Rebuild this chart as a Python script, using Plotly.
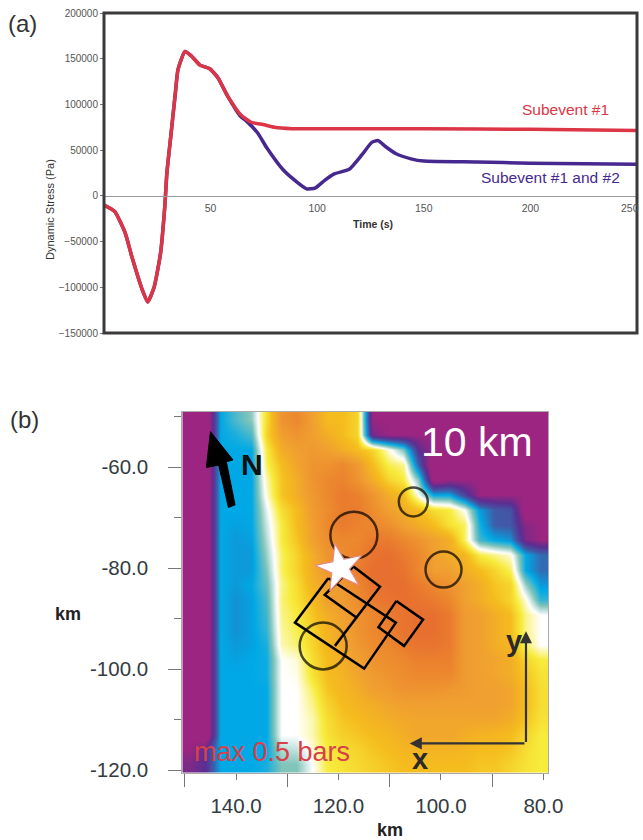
import plotly.graph_objects as go

W, H = 643, 840

# ---------- panel (a) ----------
t_sub1 = [0, 5, 10, 13, 18, 20.5, 23.5, 26.5, 28.5, 29.5, 31.5, 33.5, 34.7, 38, 41, 45, 49.6, 53.5, 58, 64, 69, 74.6, 80, 88, 100, 150, 200, 250]
stress_sub1 = [-10000, -17000, -41000, -66000, -103000, -116000, -100000, -63000, -12000, 25000, 69000, 113000, 138000, 158000, 153000, 143000, 139000, 129000, 109000, 89000, 80500, 78000, 75000, 73500, 73500, 73500, 72800, 71500]
t_both = [0, 5, 10, 13, 18, 20.5, 23.5, 26.5, 28.5, 29.5, 31.5, 33.5, 34.7, 38, 41, 45, 49.6, 53.5, 58, 64, 67, 72, 76.5, 84, 90, 95, 99, 103.5, 108, 115, 121, 125.6, 128.5, 132, 137, 144, 150, 175, 200, 225, 250]
stress_both = [-10000, -17000, -41000, -66000, -103000, -116000, -100000, -63000, -12000, 25000, 69000, 113000, 138000, 158000, 153000, 143000, 139000, 129000, 109000, 87000, 81500, 69000, 52000, 28500, 16000, 7700, 8500, 17000, 24000, 29000, 45000, 58500, 60500, 54000, 46000, 40500, 38000, 37000, 35800, 35000, 34500]
a_xticks = [50, 100, 150, 200, 250]
a_yticks = [-150000, -100000, -50000, 0, 50000, 100000, 150000, 200000]

# ---------- panel (b) stress map (level 0 purple ... 5 white ... 10 deep orange) ----------
r00 = [0,-1,3,3.6,4.1,6.3,8.5,9,8,7,7,6.5,0,0,0,0,0,0,0,0,0,0,0,0]
r01 = [0,-1,3,3.2,3.6,6.5,8,8.5,8,7.5,7,6.5,0.5,0,0,0,0,0,0,0,0,0,0,0]
r02 = [0,-1,3,3,3,6,7.5,8,8.3,8,7.5,7,6.5,5.2,4,1,0,0,0,0,0,0,0,0]
r03 = [0,-1,3,3,3,5.8,7,7.8,8.5,8.5,9,8.3,7,5.9,5.6,2,-1,0,0,0,0,0,0,0]
r04 = [0,-1,3,3,3,5.4,6.8,7.5,8.5,9,9.2,8.5,7.5,6.5,6,4,-0.5,0,0,0,0,0,0,0]
r05 = [0,-1,3,3,3,5.2,6.8,7.5,8.3,9,9.5,9.3,8.5,7.5,7,5,3,3,1.5,0,0,0,0,0]
r06 = [0,-1,3,3,3,4.8,6.3,7,8.2,8.8,9.5,9.5,8.8,8,7.5,7,6.3,6,5,2.8,2,1.8,-0.5,0]
r07 = [0,-1,3,2.9,3,4.6,6,7,8,9,9.5,9.2,9,8.7,8,7.5,7,6.2,5.8,3.2,2,1.9,0.3,0]
r08 = [0,-1,3,2.8,2.9,4.4,6,6.8,8,8.7,9,9,9.5,9.5,9,8.5,8,7.5,5.8,3.5,3,2.7,0.5,0]
r09 = [0,-1,3,2.8,2.8,4.2,5.8,6.5,7.5,8.5,8.8,9.2,9.8,10,9.5,9,8,7.5,7.2,6,5.6,5.2,3,2.2]
r10 = [0,-1,3,2.8,2.8,4,5.8,6.5,7.5,8.3,8.8,9.5,10,10,9.8,9,8,8,7.5,7,6.5,5.8,3,2.2]
r11 = [0,-1,3,2.8,3,3.8,5.6,6.3,7.3,8,8.3,9,9.8,10,10,9.5,9,8.5,8,7.5,6.8,6.5,4.2,2.8]
r12 = [0,-1,3,2.7,2.9,3.6,5.7,6.2,7,8,8.2,8.8,9.5,9.8,10,9.8,9.5,9,8,7.5,7,6.5,5.2,3.4]
r13 = [0,-1,3,2.7,2.9,3.5,5.6,6,6.8,7.5,8,8.5,9,9.5,9.8,10,10,9.5,8.2,8,7.5,7,5.6,5]
r14 = [0,-1,3,2.7,2.9,3.4,5.5,5.9,6.5,7.3,7.8,8.5,9,9.3,9.8,10,10,9.5,8.2,8,7.5,7,5.6,5]
r15 = [0,-1,3,2.8,2.9,3.2,5.4,5.7,6.5,7.2,7.8,8.3,8.8,9,9.5,9.8,9.8,9.5,8.2,8,7.5,7.2,5.8,5]
r16 = [0,-1,3,2.9,3,3.1,5,5.2,6.3,7,7.5,8,8.5,8.8,9,9.3,9.3,9.3,8.2,8,7.8,7.5,6.5,6]
r17 = [0,-1,3,3,3,3.1,5,5.1,6.2,7,7.3,7.8,8.2,8.5,8.8,9,9,9,8.2,8,7.8,7.5,6.8,6.2]
r18 = [0,-1,3,3,3,3,5,5,5.8,6.8,7.2,7.5,8,8.2,8.5,8.5,8.5,8.3,8.2,8,8,7.8,7,6.3]
r19 = [0,-1,3,3,3,3,5,5,5.6,6.5,7,7.3,7.5,7.8,8,8,8,8,8,8,8,7.8,7,6.3]
r20 = [0,-1,3,3,3,3,5,5,5.4,6.3,6.8,7,7.3,7.5,7.7,7.8,7.8,7.8,7.8,7.8,7.8,7.5,6.8,6.2]
r21 = [0,-1,3,3,3,3,5,5,5.4,6.2,6.6,6.8,7,7.2,7.5,7.8,7.8,7.8,7.5,7.3,7.2,7,6.5,6]
r22 = [0,1,3,3,3,3,4.4,4.5,5.2,6,6.3,6.5,6.8,7,7.2,7.3,7.3,7.3,7.2,7,7,6.8,6.3,6]
r23 = [0.5,1,3,3,3,3.2,4,4,5,6,6.2,6.4,6.6,6.8,7,7,7,7,7,6.8,6.8,6.5,6.2,6]
map_rows = [r00,r01,r02,r03,r04,r05,r06,r07,r08,r09,r10,r11,r12,r13,r14,r15,r16,r17,r18,r19,r20,r21,r22,r23]

map_x_lim = [150.5, 79.1]
map_y_lim = [-49.05, -120.5]
b_xlabels = [140, 120, 100, 80]
b_xminor = [150, 130, 110, 90]
b_ylabels = [-60, -80, -100, -120]
b_yminor = [-50, -70, -90, -110]

circle_x = [105.4, 117.0, 99.5, 123.0]
circle_y = [-66.9, -73.5, -80.3, -95.4]
circle_d = [29, 47, 36, 47]

rect_large_x = [122.0, 128.5, 115.0, 108.8, 122.0]
rect_large_y = [-82.0, -90.8, -99.9, -90.8, -82.0]
rect_upper_x = [117.1, 111.9, 116.5, 122.7, 117.1]
rect_upper_y = [-79.7, -83.7, -89.8, -85.3, -79.7]
rect_tail_x = [116.5, 120.7]
rect_tail_y = [-89.8, -95.4]
rect_small_x = [108.7, 103.5, 107.2, 112.2, 108.7]
rect_small_y = [-86.5, -90.2, -95.4, -91.7, -86.5]

star_x = [119.7]
star_y = [-80.0]

north_x = [145.0, 140.6, 141.9, 140.2, 141.5, 143.4, 145.8, 145.0]
north_y = [-53.0, -58.6, -58.95, -67.5, -68.0, -59.6, -60.1, -53.0]

axes_corner = (83.4, -114.7)
axis_y_end = -92.5
axis_x_end = 106.1

colorscale = [
    [0.0, "#9B2581"], [0.1, "#5B2E92"], [0.2, "#3F5CA8"], [0.3, "#00A9E6"],
    [0.4, "#80C4BA"], [0.5, "#FFFFFF"], [0.6, "#F7EC3C"], [0.7, "#F5BC1E"],
    [0.8, "#F0A030"], [0.9, "#EC882E"], [1.0, "#E76F2F"],
]

RED = "#DC3545"
PURPLE = "#46288F"
FONT = "Liberation Sans, Arial, sans-serif"

fig = go.Figure()

fig.add_trace(go.Scatter(x=t_both, y=stress_both, mode="lines", name="Subevent #1 and #2",
                         line=dict(color=PURPLE, width=3.5, shape="spline", smoothing=0.5),
                         xaxis="x", yaxis="y", showlegend=False))
fig.add_trace(go.Scatter(x=t_sub1, y=stress_sub1, mode="lines", name="Subevent #1",
                         line=dict(color=RED, width=3.5, shape="spline", smoothing=0.5),
                         xaxis="x", yaxis="y", showlegend=False))

n = len(map_rows)
cx = [map_x_lim[0] + (map_x_lim[1] - map_x_lim[0]) * (i + 0.5) / len(r00) for i in range(len(r00))]
cy = [map_y_lim[0] + (map_y_lim[1] - map_y_lim[0]) * (j + 0.5) / n for j in range(n)]
fig.add_trace(go.Heatmap(x=cx, y=cy, z=map_rows, zmin=0, zmax=10, colorscale=colorscale,
                         zsmooth="best", showscale=False, hoverinfo="skip",
                         xaxis="x2", yaxis="y2"))

for xs, ys in [(rect_large_x, rect_large_y), (rect_upper_x, rect_upper_y),
               (rect_tail_x, rect_tail_y), (rect_small_x, rect_small_y)]:
    fig.add_trace(go.Scatter(x=xs, y=ys, mode="lines", line=dict(color="#000000", width=2.5),
                             xaxis="x2", yaxis="y2", showlegend=False, hoverinfo="skip"))
fig.add_trace(go.Scatter(x=circle_x, y=circle_y, mode="markers",
                         marker=dict(symbol="circle-open", size=circle_d, color="#000000", line=dict(width=2.5, color="#000000")),
                         xaxis="x2", yaxis="y2", showlegend=False, hoverinfo="skip"))
fig.add_trace(go.Scatter(x=star_x, y=star_y, mode="markers",
                         marker=dict(symbol="star", size=36, color="#FFFFFF", angle=-12,
                                     line=dict(width=1.2, color="#E88A8A")),
                         xaxis="x2", yaxis="y2", showlegend=False, hoverinfo="skip"))
fig.add_trace(go.Scatter(x=north_x, y=north_y, mode="lines", fill="toself", fillcolor="#000000",
                         line=dict(color="#000000", width=1),
                         xaxis="x2", yaxis="y2", showlegend=False, hoverinfo="skip"))

def label(x, y, text, size, color="#222222", bold=False, angle=0):
    return dict(xref="paper", yref="paper", x=x / W, y=1 - y / H, text=f"<b>{text}</b>" if bold else text,
                showarrow=False, font=dict(family=FONT, size=size, color=color),
                xanchor="center", yanchor="middle", textangle=angle)

def on_map(x, y, text, size, color, bold=False):
    return dict(xref="x2", yref="y2", x=x, y=y, text=f"<b>{text}</b>" if bold else text, showarrow=False,
                font=dict(family=FONT, size=size, color=color), xanchor="center", yanchor="middle")

def arrow(x_from, y_from, x_to, y_to):
    return dict(xref="x2", yref="y2", axref="x2", ayref="y2", x=x_to, y=y_to, ax=x_from, ay=y_from,
                text="", showarrow=True, arrowhead=2, arrowsize=1.1, arrowwidth=2.2, arrowcolor="#333333")

annotations = [
    label(22, 23, "(a)", 24, "#333333"),
    label(24, 419, "(b)", 24, "#333333"),
    label(565, 110, "Subevent #1", 15.5, RED),
    label(550, 177, "Subevent #1 and #2", 15.5, PURPLE),
    label(68, 614, "km", 18, "#222222", bold=True),
    label(390, 830, "km", 18, "#222222", bold=True),
    label(50, 210, "Dynamic Stress (Pa)", 11, "#333333", angle=-90),
    label(373, 224, "Time (s)", 10.5, "#333333", bold=True),
    label(630, 208, "250", 10.5, "#555555"),
    on_map(93.0, -55.0, "10 km", 41, "#FFFFFF"),
    on_map(136.9, -59.6, "N", 30, "#111111", bold=True),
    on_map(85.7, -94.5, "y", 29, "#2A2A2A", bold=True),
    on_map(104.0, -117.7, "x", 29, "#2A2A2A", bold=True),
    on_map(133.0, -116.4, "max 0.5 bars", 27, "#D8404A"),
    arrow(axes_corner[0], axes_corner[1], axes_corner[0], axis_y_end),
    arrow(axes_corner[0], axes_corner[1], axis_x_end, axes_corner[1]),
]

fig.update_layout(
    width=W, height=H, margin=dict(l=0, r=0, t=0, b=0),
    paper_bgcolor="white", plot_bgcolor="white", showlegend=False,
    font=dict(family=FONT),
    annotations=annotations,
    shapes=[dict(type="rect", xref="x domain", yref="y domain", x0=0, x1=1, y0=0, y1=1,
                 line=dict(color="#3A3A3A", width=3), layer="above")],
    xaxis=dict(domain=[104 / W, 637 / W], range=[0, 250], tickvals=a_xticks[:-1], anchor="free",
               position=1 - 196 / H, showgrid=False, zeroline=False, showline=True, automargin=False,
               linecolor="#9A9A9A", linewidth=1, ticks="",
               tickfont=dict(size=10.5, color="#555555"), ticklabelstandoff=2),
    yaxis=dict(domain=[1 - 333 / H, 1 - 13 / H], range=[-150000, 200000], tickvals=a_yticks, automargin=False,
               tickformat="d", showgrid=False, zeroline=False, ticks="outside", ticklen=3,
               tickcolor="#777777", tickfont=dict(size=10, color="#555555"), anchor="x"),
    xaxis2=dict(domain=[182.3 / W, 548 / W], range=map_x_lim, tickvals=b_xlabels, automargin=False,
                ticktext=["140.0", "120.0", "100.0", "80.0"], anchor="y2", showgrid=False, zeroline=False,
                showline=True, mirror=True, linecolor="#AAAAAA", linewidth=1,
                ticks="outside", ticklen=6, tickcolor="#777777", ticklabelstandoff=9,
                tickfont=dict(size=20.5, color="#333B42"),
                minor=dict(tickvals=b_xminor, ticks="outside", ticklen=13, tickcolor="#777777", showgrid=False)),
    yaxis2=dict(domain=[1 - 772.7 / H, 1 - 411.7 / H], range=[map_y_lim[1], map_y_lim[0]], tickvals=b_ylabels, automargin=False,
                ticktext=["-60.0", "-80.0", "-100.0", "-120.0"], anchor="x2", showgrid=False, zeroline=False,
                showline=True, mirror=True, linecolor="#AAAAAA", linewidth=1,
                ticks="outside", ticklen=13, tickcolor="#777777", ticklabelstandoff=16,
                tickfont=dict(size=20.5, color="#333B42"),
                minor=dict(tickvals=b_yminor, ticks="outside", ticklen=7, tickcolor="#777777", showgrid=False)),
)

fig.write_html("out.html", config={"displayModeBar": False},
               post_script="document.body.style.margin='0';document.documentElement.style.overflow='hidden';")
